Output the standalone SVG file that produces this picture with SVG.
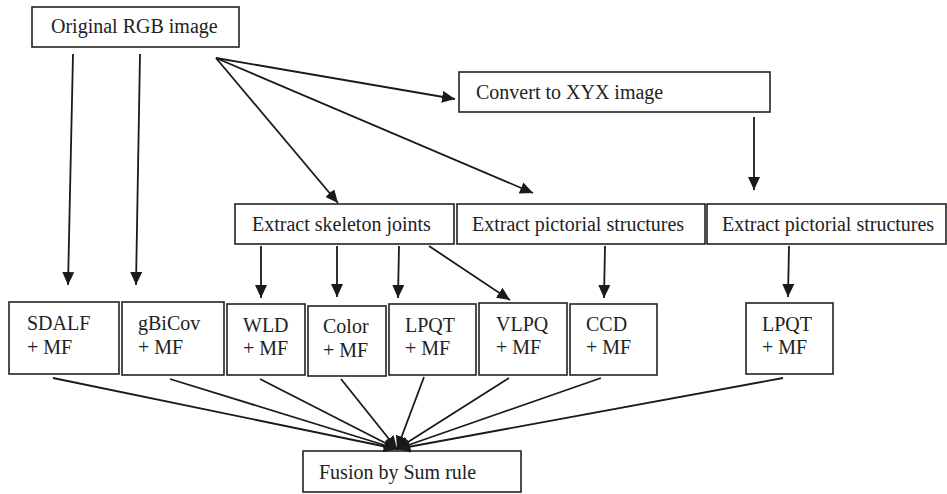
<svg xmlns="http://www.w3.org/2000/svg" width="947" height="494" viewBox="0 0 947 494">
<style>
.box{fill:#fff;stroke:#222;stroke-width:1.6}
.t{font-family:"Liberation Serif","Times New Roman",serif;font-size:20px;fill:#222}
.c{stroke:#1a1a1a;stroke-width:1.8;fill:none;marker-end:url(#ah)}
</style>
<defs>
<marker id="ah" markerUnits="userSpaceOnUse" markerWidth="14" markerHeight="12" refX="13" refY="6" orient="auto">
<path d="M0,0 L13,6 L0,12 z" fill="#1a1a1a"/>
</marker>
</defs>
<rect width="947" height="494" fill="#fff"/>
<g id="orig"><rect class="box" x="32" y="7" width="207" height="40"/><text class="t" x="51" y="33">Original RGB image</text></g>
<g id="convert"><rect class="box" x="459" y="72" width="311" height="40"/><text class="t" x="476" y="99">Convert to XYX image</text></g>
<g id="skeleton"><rect class="box" x="235" y="204" width="219" height="40"/><text class="t" x="252" y="231">Extract skeleton joints</text></g>
<g id="pict1"><rect class="box" x="457" y="204" width="248" height="40"/><text class="t" x="472" y="231">Extract pictorial structures</text></g>
<g id="pict2"><rect class="box" x="707" y="204" width="239" height="40"/><text class="t" x="722" y="231">Extract pictorial structures</text></g>
<g id="sdalf"><rect class="box" x="9" y="302" width="110" height="72"/><text class="t" x="27" y="330">SDALF</text><text class="t" x="27" y="354">+ MF</text></g>
<g id="gbicov"><rect class="box" x="122" y="302" width="102" height="73"/><text class="t" x="138" y="330">gBiCov</text><text class="t" x="138" y="354">+ MF</text></g>
<g id="wld"><rect class="box" x="227" y="304" width="78" height="71"/><text class="t" x="243" y="332">WLD</text><text class="t" x="243" y="355">+ MF</text></g>
<g id="color"><rect class="box" x="308" y="306" width="78" height="70"/><text class="t" x="323" y="333">Color</text><text class="t" x="323" y="357">+ MF</text></g>
<g id="lpqt"><rect class="box" x="389" y="304" width="87" height="71"/><text class="t" x="405" y="332">LPQT</text><text class="t" x="405" y="355">+ MF</text></g>
<g id="vlpq"><rect class="box" x="479" y="303" width="88" height="72"/><text class="t" x="496" y="331">VLPQ</text><text class="t" x="496" y="354">+ MF</text></g>
<g id="ccd"><rect class="box" x="570" y="304" width="87" height="71"/><text class="t" x="586" y="331">CCD</text><text class="t" x="586" y="354">+ MF</text></g>
<g id="lpqt2"><rect class="box" x="746" y="303" width="87" height="71"/><text class="t" x="762" y="331">LPQT</text><text class="t" x="762" y="354">+ MF</text></g>
<g id="fusion"><rect class="box" x="303" y="451" width="218" height="41"/><text class="t" x="319" y="479">Fusion by Sum rule</text></g>
<g id="connectors">
<line class="c" x1="73" y1="54" x2="68" y2="285"/>
<line class="c" x1="140" y1="54" x2="136" y2="285"/>
<line class="c" x1="216" y1="58" x2="455" y2="99"/>
<line class="c" x1="216" y1="58" x2="338" y2="203"/>
<line class="c" x1="216" y1="58" x2="533" y2="193"/>
<line class="c" x1="754" y1="117" x2="754" y2="190"/>
<line class="c" x1="261" y1="246" x2="261" y2="298"/>
<line class="c" x1="337" y1="246" x2="337" y2="297"/>
<line class="c" x1="399" y1="246" x2="398" y2="298"/>
<line class="c" x1="429" y1="246" x2="510" y2="300"/>
<line class="c" x1="605" y1="246" x2="604" y2="298"/>
<line class="c" x1="789" y1="246" x2="788" y2="297"/>
<line class="c" x1="53" y1="378" x2="397" y2="449"/>
<line class="c" x1="170" y1="379" x2="397" y2="449"/>
<line class="c" x1="260" y1="379" x2="397" y2="449"/>
<line class="c" x1="341" y1="379" x2="397" y2="449"/>
<line class="c" x1="424" y1="377" x2="397" y2="449"/>
<line class="c" x1="509" y1="378" x2="397" y2="449"/>
<line class="c" x1="601" y1="378" x2="397" y2="449"/>
<line class="c" x1="783" y1="378" x2="397" y2="449"/>
</g>
</svg>
